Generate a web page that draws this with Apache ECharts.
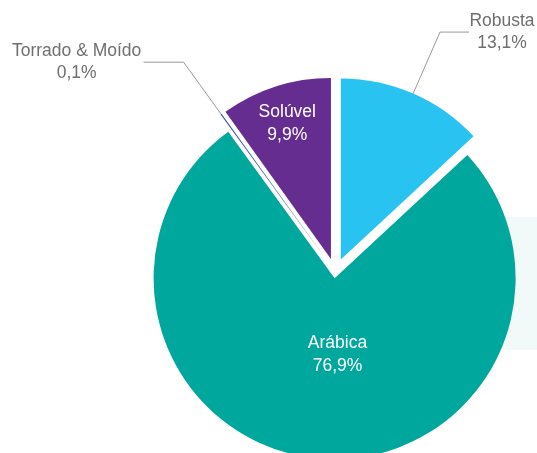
<!DOCTYPE html>
<html><head><meta charset="utf-8">
<script src="https://cdn.jsdelivr.net/npm/echarts@6/dist/echarts.min.js"></script>
<style>html,body{margin:0;padding:0;background:#fff}#c{width:537px;height:453px}</style>
</head><body><div id="c"></div>
<script>
// ---- data ----
const categories = ['Robusta', 'Arábica', 'Torrado & Moído', 'Solúvel'];
const shares = [13.1, 76.9, 0.1, 9.9];
// ---- styles ----
const colors = ['#29c3f2', '#00a79d', '#3f51a8', '#662d91'];
const explodeGroup = ['far', 'near', 'far', 'far'];
const labelStyle = {
  0: {pos: 'outside', blockWidth: 66, length: 67, length2: 29},
  1: {pos: 'inside', dx: 12, dy: -17},
  2: {pos: 'outside', blockWidth: 134, length: 64, length2: 40},
  3: {pos: 'inside', dx: -15, dy: -46}
};

const FONT = 'Liberation Sans, Arial, Helvetica, sans-serif';
const FS = 17.5;
const fmt = v => v.toFixed(1).replace('.', ',') + '%';

function makeSeries(group, offset) {
  return {
    type: 'pie',
    center: ['62.42%', '60.09%'],
    radius: 181,
    startAngle: 90,
    clockwise: true,
    selectedMode: 'multiple',
    selectedOffset: offset,
    avoidLabelOverlap: false,
    animation: false,
    emphasis: {disabled: true},
    itemStyle: {borderWidth: 0},
    labelLayout: function (p) {
      const s = labelStyle[p.dataIndex];
      if (explodeGroup[p.dataIndex] === group && s.pos === 'inside') {
        return {dx: s.dx, dy: s.dy};
      }
      return {};
    },
    data: categories.map((name, i) => {
      const visible = explodeGroup[i] === group;
      const s = labelStyle[i];
      const item = {name: name, value: shares[i], selected: true};
      if (!visible) {
        item.itemStyle = {color: 'rgba(0,0,0,0)', borderWidth: 0};
        item.label = {show: false};
        item.labelLine = {show: false};
        return item;
      }
      item.itemStyle = {color: colors[i], borderWidth: 0};
      if (s.pos === 'inside') {
        item.label = {
          show: true, position: 'inside',
          formatter: p => p.name + '\n' + fmt(p.value),
          color: '#ffffff', fontSize: FS, fontFamily: FONT, lineHeight: 23, align: 'center'
        };
        item.labelLine = {show: false};
      } else {
        item.label = {
          show: true, position: 'outside', distanceToLabelLine: 0, bleedMargin: 0, overflow: 'none',
          formatter: p => '{t|' + p.name + '}\n{t|' + fmt(p.value) + '}',
          rich: {t: {width: s.blockWidth, align: 'center', color: '#6f6f6f', fontSize: FS, fontFamily: FONT, lineHeight: 22}}
        };
        item.labelLine = {show: true, length: s.length, length2: s.length2, smooth: false,
          lineStyle: {color: '#9a9a9a', width: 1}};
      }
      return item;
    })
  };
}

const chart = echarts.init(document.getElementById('c'), null, {renderer: 'canvas'});
chart.setOption({
  animation: false,
  backgroundColor: '#ffffff',
  graphic: [{type: 'rect', left: 505, top: 217, z: -10, silent: true,
    shape: {width: 40, height: 133}, style: {fill: '#f1f9f9'}}],
  series: [makeSeries('far', 14), makeSeries('near', 6)]
});
</script></body></html>
